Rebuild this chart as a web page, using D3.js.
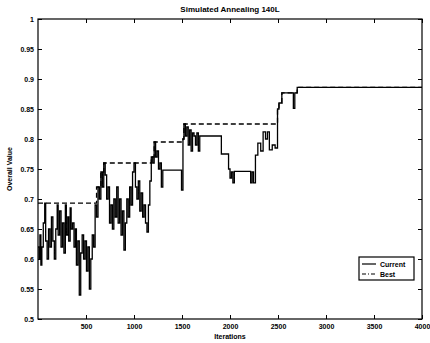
<!DOCTYPE html>
<html>
<head>
<meta charset="utf-8">
<script src="https://cdn.jsdelivr.net/npm/d3@7"></script>
<style>
  body { margin: 0; background: #fff; }
  svg { font-family: "Liberation Sans", Arial, sans-serif; }
  .axes text { font-size: 7px; font-weight: bold; fill: #000; }
  .axes line { stroke: #000; }
</style>
</head>
<body>
<svg width="430" height="343"></svg>
<script>
//chart size and plot box
const SVG_WIDTH = 430;
const SVG_HEIGHT = 343;
const LEFT = 38, RIGHT = 422, TOP = 19, BOTTOM = 319;

//tick values
var xTicks = [500, 1000, 1500, 2000, 2500, 3000, 3500, 4000];
var yTicks = [0.5, 0.55, 0.6, 0.65, 0.7, 0.75, 0.8, 0.85, 0.9, 0.95, 1];

//current solution value (iteration, value)
var currentIter = [0, 10, 20, 30, 40, 55, 70, 80, 95, 110, 125, 140, 155, 170, 185, 200,
                   210, 225, 240, 255, 270, 285, 295, 310, 320, 335, 345, 360, 375, 390,
                   400, 415, 430, 445, 460, 475, 490, 505, 520, 535, 550, 565, 580, 595,
                   610, 625, 640, 655, 670, 685, 700, 715, 730, 745, 760, 775, 790, 805,
                   820, 835, 850, 865, 880, 895, 910, 925, 940, 955, 970, 985, 1000, 1015,
                   1030, 1045, 1060, 1075, 1090, 1105, 1120, 1135, 1150, 1165, 1180, 1195,
                   1210, 1225, 1240, 1255, 1270, 1285, 1300, 1320, 1495, 1510, 1520, 1535,
                   1550, 1565, 1580, 1595, 1610, 1625, 1640, 1655, 1670, 1685, 1700, 1910,
                   1985, 2000, 2015, 2030, 2045, 2215, 2230, 2245, 2265, 2290, 2320, 2345,
                   2370, 2390, 2410, 2440, 2470, 2495, 2510, 2540, 2660, 2675, 2700, 4000];
var currentVal = [0.62, 0.60, 0.64, 0.59, 0.62, 0.66, 0.693, 0.63, 0.60, 0.65, 0.62, 0.67, 0.63, 0.60, 0.65, 0.69,
                  0.64, 0.68, 0.62, 0.66, 0.61, 0.69, 0.64, 0.67, 0.63, 0.685, 0.65, 0.66, 0.62, 0.65,
                  0.59, 0.63, 0.54, 0.61, 0.64, 0.60, 0.63, 0.58, 0.62, 0.55, 0.60, 0.64, 0.62, 0.69,
                  0.67, 0.72, 0.70, 0.745, 0.72, 0.76, 0.74, 0.70, 0.72, 0.66, 0.69, 0.65, 0.70, 0.67,
                  0.72, 0.66, 0.70, 0.64, 0.68, 0.615, 0.66, 0.70, 0.67, 0.72, 0.69, 0.745, 0.76, 0.72,
                  0.70, 0.73, 0.68, 0.71, 0.67, 0.69, 0.66, 0.645, 0.69, 0.73, 0.77, 0.76,
                  0.795, 0.77, 0.78, 0.75, 0.76, 0.72, 0.748, 0.748, 0.715, 0.80, 0.825, 0.805,
                  0.82, 0.79, 0.815, 0.78, 0.81, 0.805, 0.79, 0.81, 0.78, 0.805, 0.805, 0.775,
                  0.75, 0.735, 0.745, 0.727, 0.746, 0.727, 0.745, 0.727, 0.773, 0.793, 0.78, 0.812,
                  0.80, 0.812, 0.782, 0.79, 0.785, 0.85, 0.86, 0.877, 0.851, 0.877, 0.886, 0.886];

//best value found so far
var bestIter = [0, 610, 655, 685, 1180, 1210, 1510, 1520, 2495, 2510, 2540, 2700, 4000];
var bestVal = [0.693, 0.72, 0.745, 0.76, 0.77, 0.795, 0.80, 0.825, 0.85, 0.86, 0.877, 0.886, 0.886];

var seriesNames = ['Current', 'Best'];

var svg = d3.select('svg');

var x = d3.scaleLinear().domain([0, 4000]).range([LEFT, RIGHT]);
var y = d3.scaleLinear().domain([0.5, 1]).range([BOTTOM, TOP]);

//axes, ticks pointing inward like matlab
svg.append('g')
   .attr('class', 'axes')
   .attr('transform', 'translate(0,' + BOTTOM + ')')
   .call(d3.axisBottom(x).tickValues(xTicks).tickSizeInner(-4).tickSizeOuter(0).tickPadding(5)
           .tickFormat(d3.format('d')));

svg.append('g')
   .attr('class', 'axes')
   .attr('transform', 'translate(' + LEFT + ',0)')
   .call(d3.axisLeft(y).tickValues(yTicks).tickSizeInner(-4).tickSizeOuter(0).tickPadding(4)
           .tickFormat(function(d) { return String(+d.toFixed(2)); }));

svg.append('g')
   .attr('class', 'axes')
   .attr('transform', 'translate(0,' + TOP + ')')
   .call(d3.axisTop(x).tickValues(xTicks).tickSizeInner(-4).tickSizeOuter(0).tickFormat(''));

svg.append('g')
   .attr('class', 'axes')
   .attr('transform', 'translate(' + RIGHT + ',0)')
   .call(d3.axisRight(y).tickValues(yTicks).tickSizeInner(-4).tickSizeOuter(0).tickFormat(''));

svg.selectAll('.axes .domain').remove();

//plot box
svg.append('rect')
   .attr('x', LEFT).attr('y', TOP)
   .attr('width', RIGHT - LEFT).attr('height', BOTTOM - TOP)
   .attr('fill', 'none').attr('stroke', '#000').attr('stroke-width', 1.2);

var line = d3.line()
             .curve(d3.curveStepAfter)
             .x(function(d) { return x(d[0]); })
             .y(function(d) { return y(d[1]); });

var current = d3.zip(currentIter, currentVal);
var best = d3.zip(bestIter, bestVal);

svg.append('path')
   .attr('d', line(current))
   .attr('fill', 'none')
   .attr('stroke', '#000')
   .attr('stroke-width', 1.3);

svg.append('path')
   .attr('d', line(best))
   .attr('fill', 'none')
   .attr('stroke', '#000')
   .attr('stroke-width', 1.3)
   .attr('stroke-dasharray', '5,3');

//title and axis labels
svg.append('text')
   .attr('x', (LEFT + RIGHT) / 2).attr('y', 12)
   .attr('text-anchor', 'middle')
   .style('font-size', '8px').style('font-weight', 'bold')
   .text('Simulated Annealing 140L');

svg.append('text')
   .attr('x', (LEFT + RIGHT) / 2).attr('y', 339)
   .attr('text-anchor', 'middle')
   .style('font-size', '7px').style('font-weight', 'bold')
   .text('Iterations');

svg.append('text')
   .attr('transform', 'translate(12,' + (TOP + BOTTOM) / 2 + ') rotate(-90)')
   .attr('text-anchor', 'middle')
   .style('font-size', '7px').style('font-weight', 'bold')
   .text('Overall Value');

//legend
var legend = svg.append('g').attr('transform', 'translate(359,257)');
legend.append('rect')
      .attr('width', 55).attr('height', 23)
      .attr('fill', '#fff').attr('stroke', '#000').attr('stroke-width', 1.2);
legend.selectAll('line')
      .data(seriesNames)
      .enter()
      .append('line')
        .attr('x1', 3).attr('x2', 17)
        .attr('y1', function(d, i) { return 7 + i * 10; })
        .attr('y2', function(d, i) { return 7 + i * 10; })
        .attr('stroke', '#000').attr('stroke-width', 1.2)
        .attr('stroke-dasharray', function(d, i) { return i ? '4,2,1,2' : null; });
legend.selectAll('text')
      .data(seriesNames)
      .enter()
      .append('text')
        .attr('x', 21)
        .attr('y', function(d, i) { return 9.5 + i * 10; })
        .style('font-size', '7px').style('font-weight', 'bold')
        .text(function(d) { return d; });
</script>
</body>
</html>
